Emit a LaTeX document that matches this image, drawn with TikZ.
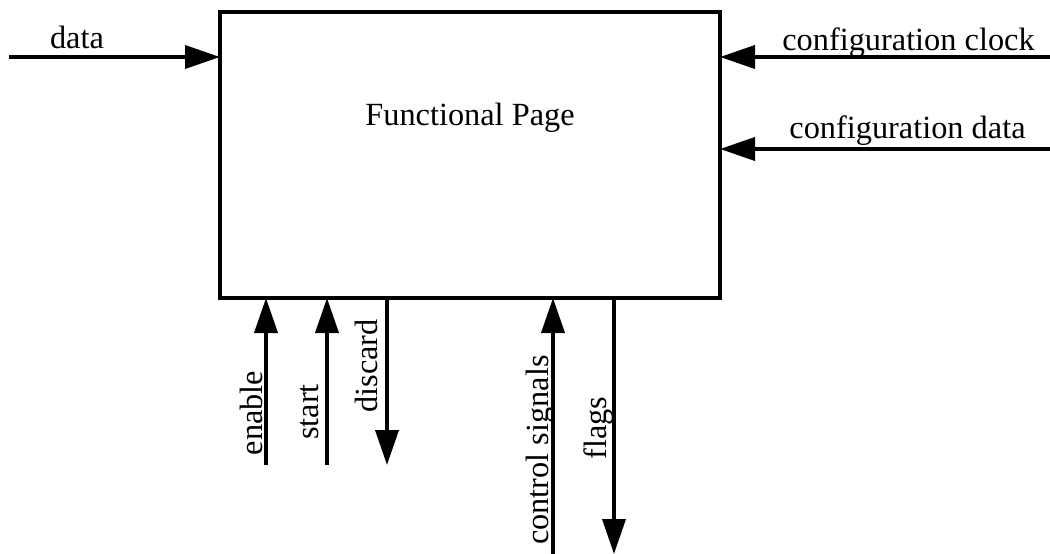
\documentclass[tikz,border=0pt]{standalone}
\usepackage{fontspec}
\setmainfont{Liberation Serif}
\usetikzlibrary{positioning,arrows.meta}

\begin{document}
\begin{tikzpicture}[
    block/.style={draw, rectangle, line width=2.1pt, minimum width=10cm, minimum height=5.72cm, inner sep=0pt, outer sep=0pt},
    arrow/.style={-{Triangle[length=7mm, width=4.6mm]}, line width=2.1pt},
    sig/.style={font=\fontsize{18.4}{22}\selectfont, inner sep=0pt, anchor=base},
    vsig/.style={sig, rotate=90}
]
\useasboundingbox (0,0) rectangle (21,-11.08);

% --- Bloque principal ---
\node[block] (fp) at (9.4,-3.1) {};
\node[sig] (fptxt) at (9.4,-2.5) {Functional Page};

% --- Entradas laterales ---
\coordinate (datain) at (0.18,-1.14);
\coordinate (cfgclk) at (21,-1.14);
\coordinate (cfgdat) at (21,-2.98);
\node[sig] (datalbl) at (1.54,-0.97) {data};
\node[sig] (clklbl) at (18.17,-1.0) {configuration clock};
\node[sig] (cdatlbl) at (18.15,-2.76) {configuration data};

% --- Señales inferiores ---
\coordinate (en) at (5.32,-9.3);
\coordinate (st) at (6.54,-9.3);
\coordinate (dis) at (7.74,-9.3);
\coordinate (ctl) at (11.06,-11.08);
\coordinate (flg) at (12.28,-11.08);
\node[vsig] (enlbl) at (5.24,-8.26) {enable};
\node[vsig] (stlbl) at (6.36,-8.24) {start};
\node[vsig] (dislbl) at (7.54,-7.32) {discard};
\node[vsig] (ctllbl) at (10.96,-9.0) {control signals};
\node[vsig] (flglbl) at (12.12,-8.56) {flags};

% --- Conexiones ---
\draw[arrow] (datain) -- (datain -| fp.west);
\draw[arrow] (cfgclk) -- (cfgclk -| fp.east);
\draw[arrow] (cfgdat) -- (cfgdat -| fp.east);
\draw[arrow] (en) -- (en |- fp.south);
\draw[arrow] (st) -- (st |- fp.south);
\draw[arrow] (dis |- fp.south) -- (dis);
\draw[arrow] (ctl) -- (ctl |- fp.south);
\draw[arrow] (flg |- fp.south) -- (flg);

\end{tikzpicture}
\end{document}
